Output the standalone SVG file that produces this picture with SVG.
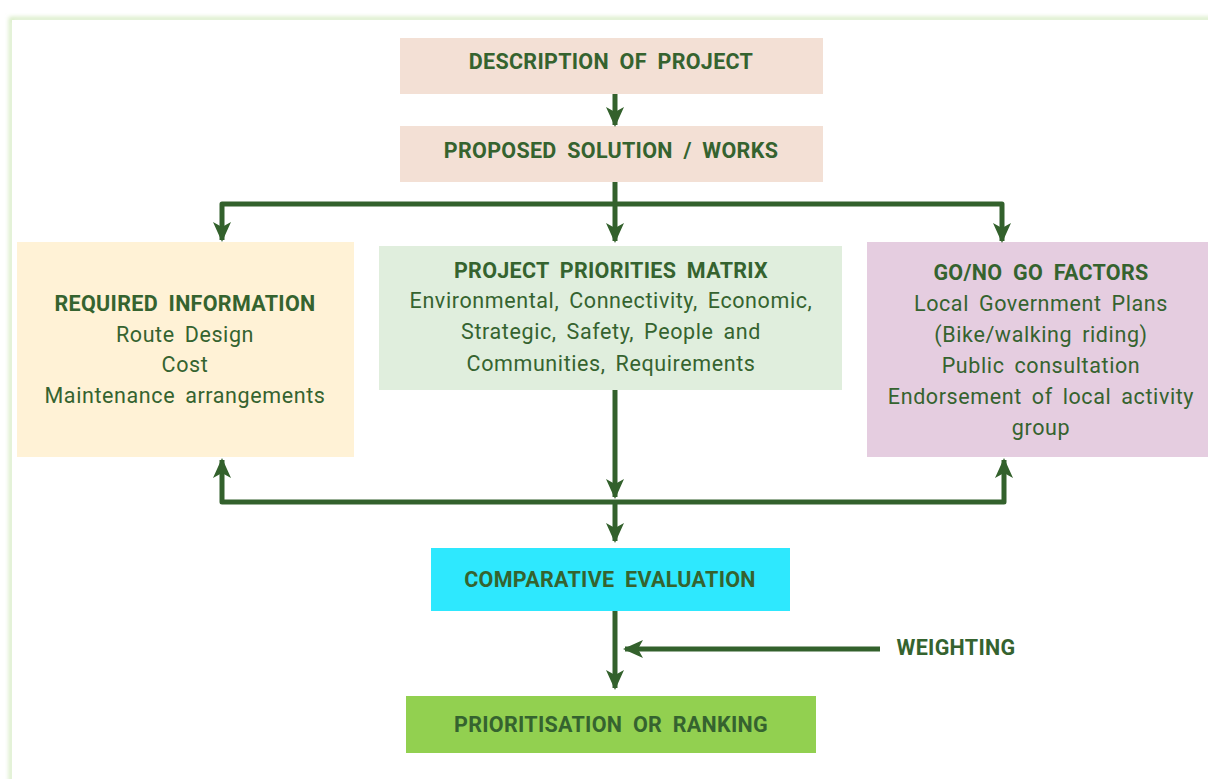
<svg xmlns="http://www.w3.org/2000/svg" width="1208" height="779" viewBox="0 0 1208 779">
<defs>
<marker id="ah" markerUnits="userSpaceOnUse" markerWidth="20" markerHeight="20" viewBox="0 0 20 20" refX="18" refY="10" orient="auto">
<path d="M0,1 L20,10 L0,19 L5,10 Z" fill="#33612c"/>
</marker>
<filter id="glow" x="-5%" y="-5%" width="110%" height="110%"><feGaussianBlur stdDeviation="2"/></filter>
</defs>
<style>
.h{font-family:Roboto,"Liberation Sans",sans-serif;font-weight:bold;font-size:21.5px;fill:#35632f;text-anchor:middle;letter-spacing:0.3px;word-spacing:5px}
.b{font-family:Roboto,"Liberation Sans",sans-serif;font-size:21.5px;fill:#35632f;text-anchor:middle;letter-spacing:0.6px;word-spacing:4px}
.c{fill:none;stroke:#33612c;stroke-width:5;stroke-linejoin:round}
</style>
<rect width="1208" height="779" fill="#ffffff"/>
<rect x="11" y="19" width="1220" height="800" fill="none" stroke="#d4eac0" stroke-width="4" filter="url(#glow)"/>
<rect x="12" y="20" width="1220" height="800" fill="#ffffff"/>
<g id="n-description"><rect x="400" y="38" width="423" height="56" fill="#f3e0d5"/><text class="h" x="611" y="69">DESCRIPTION OF PROJECT</text></g>
<g id="n-proposed"><rect x="400" y="126" width="423" height="56" fill="#f3e0d5"/><text class="h" x="611" y="158">PROPOSED SOLUTION / WORKS</text></g>
<g id="n-required"><rect x="17" y="242" width="337" height="215" fill="#fff2d6"/>
<text class="h" x="185" y="311">REQUIRED INFORMATION</text>
<text class="b" x="185" y="342">Route Design</text>
<text class="b" x="185" y="372">Cost</text>
<text class="b" x="185" y="403">Maintenance arrangements</text></g>
<g id="n-ppm"><rect x="379" y="246" width="463" height="144" fill="#e0eedd"/>
<text class="h" x="611" y="278">PROJECT PRIORITIES MATRIX</text>
<text class="b" x="611" y="308">Environmental, Connectivity, Economic,</text>
<text class="b" x="611" y="339">Strategic, Safety, People and</text>
<text class="b" x="611" y="371">Communities, Requirements</text></g>
<g id="n-gonogo"><rect x="867" y="242" width="341" height="215" fill="#e5cde0"/>
<text class="h" x="1041" y="280">GO/NO GO FACTORS</text>
<text class="b" x="1041" y="311">Local Government Plans</text>
<text class="b" x="1041" y="342">(Bike/walking riding)</text>
<text class="b" x="1041" y="373">Public consultation</text>
<text class="b" x="1041" y="404">Endorsement of local activity</text>
<text class="b" x="1041" y="435">group</text></g>
<g id="n-comparative"><rect x="431" y="548" width="359" height="63" fill="#2ee8fe"/><text class="h" x="610" y="587">COMPARATIVE EVALUATION</text></g>
<g id="n-weighting"><text class="h" x="956" y="655">WEIGHTING</text></g>
<g id="n-prior"><rect x="406" y="696" width="410" height="57" fill="#92d050"/><text class="h" x="611" y="732">PRIORITISATION OR RANKING</text></g>
<g id="connectors">
<path class="c" d="M615,94 V125" marker-end="url(#ah)"/>
<path class="c" d="M615,182 V241" marker-end="url(#ah)"/>
<path class="c" d="M615,204 H222 V240" marker-end="url(#ah)"/>
<path class="c" d="M615,204 H1002 V241" marker-end="url(#ah)"/>
<path class="c" d="M615,390 V497" marker-end="url(#ah)"/>
<path class="c" d="M615,502 H222 V460" marker-end="url(#ah)"/>
<path class="c" d="M615,502 H1004 V460" marker-end="url(#ah)"/>
<path class="c" d="M615,502 V541" marker-end="url(#ah)"/>
<path class="c" d="M615,611 V688" marker-end="url(#ah)"/>
<path class="c" d="M880,649 H625" marker-end="url(#ah)"/>
</g>
</svg>
